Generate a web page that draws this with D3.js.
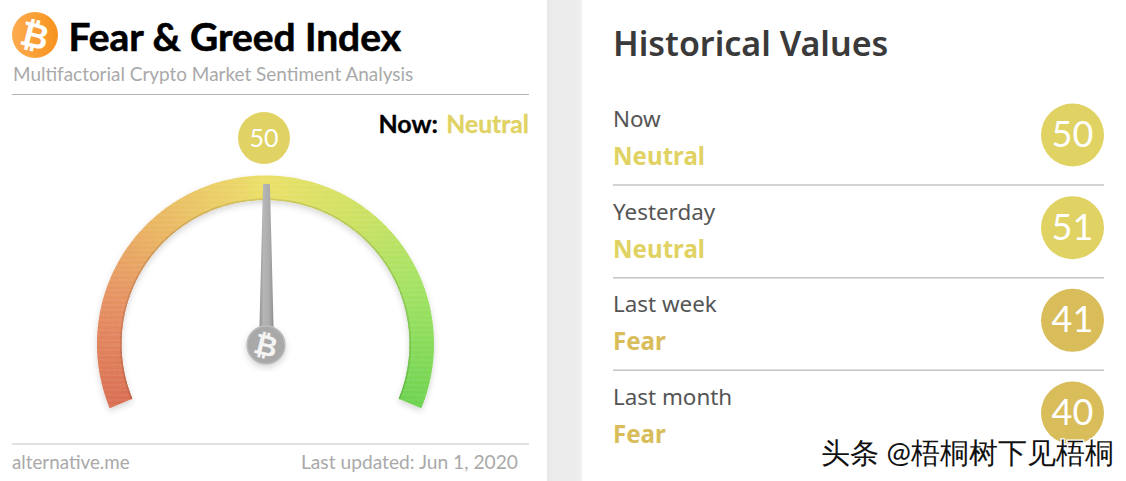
<!DOCTYPE html>
<html>
<head>
<meta charset="utf-8">
<script src="https://cdn.jsdelivr.net/npm/d3@7"></script>
<style>
html, body { margin: 0; padding: 0; background: #fff; overflow: hidden; }
text { font-family: Lato, sans-serif; }
.nun { font-family: "Noto Sans", Lato, sans-serif; }
</style>
</head>
<body>
<div id="visualization"></div>
<script>
// --- Data ---
const CURRENT_VALUE = 50;
const NOW_CLASS = "Neutral";
const HISTORY_LABELS = ["Now", "Yesterday", "Last week", "Last month"];
const HISTORY_CLASSES = ["Neutral", "Neutral", "Fear", "Fear"];
const HISTORY_VALUES = [50, 51, 41, 40];
const GAUGE_STOPS = [0, 15, 30, 50, 65, 80, 100];
const GAUGE_COLORS = ["#d96f52", "#e58d62", "#eab564", "#ebe068", "#cfe164", "#a5e364", "#6dd350"];

// --- Constants ---
const SVG_WIDTH = 1126;
const SVG_HEIGHT = 481;
const CENTER = { x: 265.5, y: 344 };
const OUTER_R = 168.5;
const INNER_R = 144;
const END_ANGLE = 112.4 * Math.PI / 180;
const TEXT_GREY = "#a9a9a9";
const RULE = "#c4c4c4";

const svg = d3.select("#visualization").append("svg")
    .attr("width", SVG_WIDTH).attr("height", SVG_HEIGHT)
    .style("display", "block");
const defs = svg.append("defs");

const shadow = defs.append("filter").attr("id", "soft")
    .attr("x", "-20%").attr("y", "-20%").attr("width", "140%").attr("height", "140%");
shadow.append("feDropShadow").attr("dx", 0).attr("dy", 3).attr("stdDeviation", 3)
    .attr("flood-color", "#000").attr("flood-opacity", 0.16);

const band = defs.append("linearGradient").attr("id", "band");
[["0%", "#e6e6e6"], ["15%", "#ececec"], ["85%", "#ececec"], ["100%", "#f1f1f1"]].forEach(s =>
    band.append("stop").attr("offset", s[0]).attr("stop-color", s[1]));

const needleFill = defs.append("linearGradient").attr("id", "needleFill");
[["0%", "#8f8f8f"], ["30%", "#b6b6b6"], ["70%", "#ababab"], ["100%", "#8c8c8c"]].forEach(s =>
    needleFill.append("stop").attr("offset", s[0]).attr("stop-color", s[1]));

const brush = defs.append("pattern").attr("id", "brush")
    .attr("patternUnits", "userSpaceOnUse").attr("width", 8).attr("height", 5);
brush.append("rect").attr("width", 8).attr("height", 2).attr("fill", "#fff").attr("opacity", 0.05);

// --- Panels ---
svg.append("rect").attr("x", 547).attr("y", 0).attr("width", 35).attr("height", SVG_HEIGHT)
    .attr("fill", "url(#band)");

// --- Header ---
const bitcoinIcon = (parent, cx, cy, r, fill, glyphFill) => {
    const g = parent.append("g").attr("transform", `translate(${cx},${cy})`);
    g.append("circle").attr("r", r).attr("fill", fill);
    g.append("text").attr("transform", "rotate(14)")
        .attr("text-anchor", "middle").attr("dy", "0.36em")
        .attr("font-family", "DejaVu Sans").attr("font-weight", 700)
        .attr("font-size", r * 1.5).attr("fill", glyphFill)
        .text("\u20BF");
    return g;
};
const iconGrad = defs.append("linearGradient").attr("id", "iconGrad");
iconGrad.append("stop").attr("offset", "0%").attr("stop-color", "#fdac50");
iconGrad.append("stop").attr("offset", "100%").attr("stop-color", "#f7931e");
bitcoinIcon(svg, 35, 35, 23, "url(#iconGrad)", "#fff");

svg.append("text").attr("x", 68.5).attr("y", 51)
    .attr("font-size", 38.9).attr("font-weight", 700).attr("fill", "#000")
    .attr("stroke", "#000").attr("stroke-width", 0.6)
    .text("Fear & Greed Index");
svg.append("text").attr("x", 13).attr("y", 81)
    .attr("font-size", 18.95).attr("fill", TEXT_GREY)
    .text("Multifactorial Crypto Market Sentiment Analysis");
svg.append("line").attr("x1", 12).attr("x2", 529).attr("y1", 94.5).attr("y2", 94.5)
    .attr("stroke", "#b4b4b4");

// --- Value colour ---
const badgeColor = d3.scaleThreshold().domain([45]).range(["#d8bd5a", "#e0d263"]);

svg.append("circle").attr("cx", 264).attr("cy", 138).attr("r", 26)
    .attr("fill", badgeColor(CURRENT_VALUE));
svg.append("text").attr("x", 264).attr("y", 147)
    .attr("text-anchor", "middle").attr("font-size", 25).attr("fill", "#fff")
    .text(CURRENT_VALUE);

svg.append("text").attr("x", 438).attr("y", 133)
    .attr("text-anchor", "end").attr("font-size", 25).attr("font-weight", 700).attr("fill", "#000")
    .attr("stroke", "#000").attr("stroke-width", 0.3)
    .text("Now:");
svg.append("text").attr("x", 529).attr("y", 133)
    .attr("text-anchor", "end").attr("font-size", 24.7).attr("font-weight", 700)
    .attr("fill", badgeColor(CURRENT_VALUE))
    .attr("stroke", badgeColor(CURRENT_VALUE)).attr("stroke-width", 0.3)
    .text(NOW_CLASS);

// --- Gauge ---
const angle = d3.scaleLinear().domain([0, 100]).range([-END_ANGLE, END_ANGLE]);
const gaugeColor = d3.scaleLinear().domain(GAUGE_STOPS).range(GAUGE_COLORS);
const arc = d3.arc();
const gauge = svg.append("g").attr("transform", `translate(${CENTER.x},${CENTER.y})`);
const steps = d3.range(0, 100, 0.5);

const ring = gauge.append("g").attr("filter", "url(#soft)");
ring.selectAll("path.seg").data(steps).join("path")
    .attr("class", "seg")
    .attr("d", d => arc({
        innerRadius: INNER_R, outerRadius: OUTER_R,
        startAngle: angle(d), endAngle: angle(d + 0.5) + (d < 99.5 ? 0.003 : 0)
    }))
    .attr("fill", d => gaugeColor(d));
// darker inner lip of the ring
gauge.selectAll("path.lip").data(steps).join("path")
    .attr("class", "lip")
    .attr("d", d => arc({
        innerRadius: INNER_R, outerRadius: INNER_R + 1.5,
        startAngle: angle(d), endAngle: angle(d + 0.5) + (d < 99.5 ? 0.003 : 0)
    }))
    .attr("fill", d => d3.color(gaugeColor(d)).darker(0.35));
gauge.append("path")
    .attr("d", arc({ innerRadius: INNER_R, outerRadius: OUTER_R, startAngle: angle(0), endAngle: angle(100) }))
    .attr("fill", "url(#brush)");

// --- Needle ---
const needleLine = d3.line();
const needle = gauge.append("g")
    .attr("transform", `translate(1,0) rotate(${angle(CURRENT_VALUE) * 180 / Math.PI})`);
needle.append("path")
    .attr("d", needleLine([[-7.5, 0], [-3.4, -160], [3.4, -160], [7.5, 0]]) + "Z")
    .attr("fill", "url(#needleFill)");
const hub = bitcoinIcon(gauge, 0.5, 1, 19, "#a9a9a9", "#f4f4f4");
hub.select("circle").attr("stroke", "#bdbdbd").attr("stroke-width", 1.5).attr("filter", "url(#soft)");

// --- Footer ---
svg.append("line").attr("x1", 12).attr("x2", 529).attr("y1", 444).attr("y2", 444)
    .attr("stroke", RULE);
svg.append("text").attr("x", 12).attr("y", 469)
    .attr("font-size", 18.8).attr("fill", TEXT_GREY).text("alternative.me");
svg.append("text").attr("x", 518).attr("y", 469)
    .attr("text-anchor", "end").attr("font-size", 19.2).attr("fill", TEXT_GREY)
    .text("Last updated: Jun 1, 2020");

// --- Historical values ---
svg.append("text").attr("class", "nun").attr("x", 613).attr("y", 56)
    .attr("font-size", 34).attr("font-weight", 600).attr("fill", "#3a3a3a")
    .text("Historical Values");

const rowY = d3.scalePoint().domain(HISTORY_LABELS).range([135, 413]);
const rows = svg.selectAll("g.row").data(HISTORY_LABELS).join("g")
    .attr("class", "row")
    .attr("transform", d => `translate(0,${rowY(d)})`);
rows.append("text").attr("class", "nun").attr("x", 613).attr("y", -8)
    .attr("font-size", 22.4).attr("fill", "#555").text(d => d);
rows.append("text").attr("class", "nun").attr("x", 613).attr("y", 30)
    .attr("font-size", 24.1).attr("font-weight", 700)
    .attr("fill", (d, i) => badgeColor(HISTORY_VALUES[i]))
    .text((d, i) => HISTORY_CLASSES[i]);
rows.append("circle").attr("cx", 1072.5).attr("r", 31.5)
    .attr("fill", (d, i) => badgeColor(HISTORY_VALUES[i]));
rows.append("text").attr("x", 1072.5).attr("y", 12)
    .attr("text-anchor", "middle").attr("font-size", 36).attr("fill", "#fff")
    .text((d, i) => HISTORY_VALUES[i]);
rows.filter((d, i) => i < HISTORY_LABELS.length - 1).append("line")
    .attr("x1", 613).attr("x2", 1104).attr("y1", 50).attr("y2", 50)
    .attr("stroke", RULE).attr("stroke-width", 1.5);

// --- Watermark ---
svg.append("text").attr("x", 821).attr("y", 462.5)
    .attr("font-family", "Noto Sans CJK SC").attr("font-size", 29.2).attr("fill", "#111")
    .attr("stroke", "#fff").attr("stroke-width", 2.5).attr("paint-order", "stroke")
    .text("头条 @梧桐树下见梧桐");
</script>
</body>
</html>
